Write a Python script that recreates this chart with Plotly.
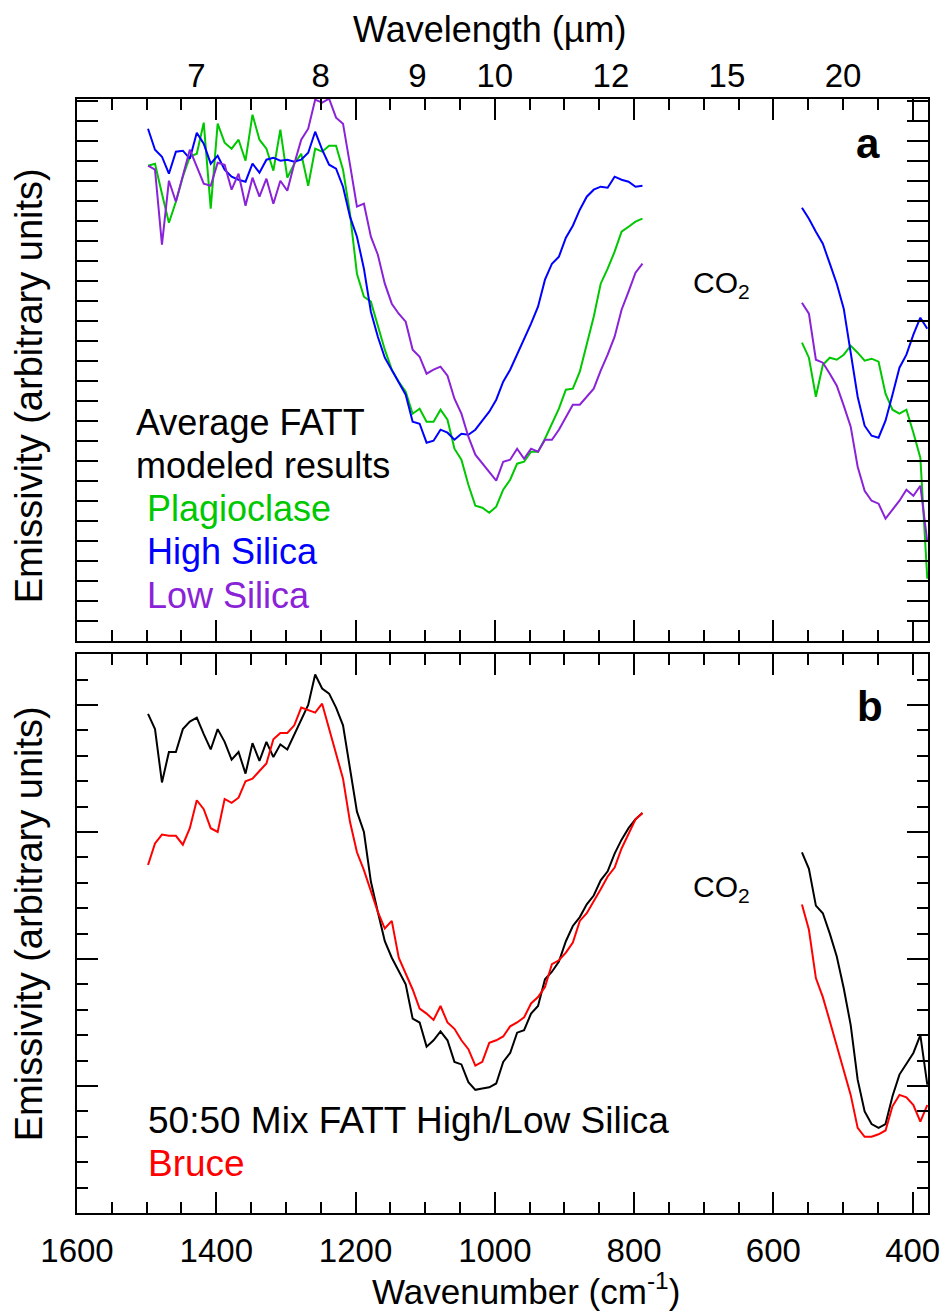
import plotly.graph_objects as go

# ---------------- data ----------------
# wavenumber sampling (cm^-1): left segment (before CO2 band) and right segment
wn_left = [1498, 1488, 1478, 1468, 1458, 1448, 1438, 1428, 1418, 1408,
           1398, 1388, 1378, 1368, 1358, 1348, 1338, 1328, 1318, 1308,
           1298, 1288, 1278, 1268, 1258, 1248, 1238, 1228, 1218, 1208,
           1198, 1188, 1178, 1168, 1158, 1148, 1138, 1128, 1118, 1108,
           1098, 1088, 1078, 1068, 1058, 1048, 1038, 1028, 1018, 1008,
           998, 988, 978, 968, 958, 948, 938, 928, 918, 908,
           898, 888, 878, 868, 858, 848, 838, 828, 818, 808,
           798, 788]
wn_right = [559, 549, 539, 529, 519, 509, 499, 489, 479, 469,
            459, 449, 439, 429, 419, 409, 399, 389, 379]

# panel a (arbitrary units)
plag_left = [4.75, 4.77, 4.47, 4.18, 4.39, 4.64, 4.84, 4.87, 5.18, 4.32,
             5.17, 4.98, 4.92, 5.01, 4.80, 5.26, 5.01, 4.92, 4.70, 5.11,
             4.63, 4.77, 4.87, 4.55, 4.92, 4.89, 4.95, 4.95, 4.71, 4.27,
             3.67, 3.44, 3.39, 3.15, 2.91, 2.71, 2.59, 2.49, 2.27, 2.32,
             2.19, 2.19, 2.31, 2.21, 1.92, 1.81, 1.56, 1.35, 1.33, 1.28,
             1.34, 1.51, 1.61, 1.77, 1.79, 1.89, 1.89, 2.02, 2.17, 2.32,
             2.51, 2.52, 2.69, 2.96, 3.24, 3.57, 3.72, 3.89, 4.09, 4.14,
             4.19, 4.22]
plag_right = [2.98, 2.83, 2.44, 2.76, 2.83, 2.81, 2.86, 2.95, 2.88, 2.80,
              2.82, 2.79, 2.47, 2.31, 2.27, 2.31, 2.08, 1.83, 0.62]

high_left = [5.12, 4.91, 4.84, 4.67, 4.89, 4.90, 4.82, 5.08, 4.97, 4.77,
             4.85, 4.71, 4.64, 4.61, 4.59, 4.77, 4.68, 4.81, 4.83, 4.80,
             4.81, 4.79, 4.81, 4.88, 5.09, 4.91, 4.76, 4.72, 4.54, 4.24,
             4.04, 3.72, 3.29, 3.04, 2.83, 2.71, 2.59, 2.46, 2.19, 2.17,
             1.98, 2.00, 2.11, 2.08, 2.01, 2.07, 2.06, 2.11, 2.20, 2.29,
             2.41, 2.59, 2.71, 2.86, 3.02, 3.17, 3.34, 3.61, 3.77, 3.84,
             4.03, 4.15, 4.31, 4.44, 4.51, 4.54, 4.53, 4.64, 4.61, 4.59,
             4.54, 4.55]
high_right = [4.33, 4.22, 4.09, 3.97, 3.77, 3.57, 3.32, 2.87, 2.44, 2.15,
              2.05, 2.03, 2.20, 2.46, 2.73, 2.86, 3.06, 3.23, 3.12]

low_left = [4.75, 4.71, 3.96, 4.60, 4.39, 4.64, 4.91, 4.74, 4.57, 4.55,
            4.78, 4.76, 4.51, 4.67, 4.35, 4.63, 4.44, 4.62, 4.37, 4.60,
            4.50, 4.77, 5.01, 5.12, 5.41, 5.38, 5.42, 5.23, 5.17, 4.76,
            4.34, 4.37, 4.04, 3.86, 3.57, 3.37, 3.27, 3.19, 2.91, 2.84,
            2.67, 2.71, 2.74, 2.65, 2.42, 2.27, 2.04, 1.86, 1.77, 1.69,
            1.60, 1.79, 1.81, 1.92, 1.82, 1.92, 1.89, 2.01, 2.01, 2.11,
            2.23, 2.36, 2.36, 2.44, 2.52, 2.70, 2.86, 3.04, 3.31, 3.49,
            3.68, 3.77]
low_right = [3.38, 3.27, 2.81, 2.78, 2.67, 2.55, 2.35, 2.14, 1.74, 1.50,
             1.40, 1.37, 1.22, 1.31, 1.40, 1.51, 1.45, 1.55, 0.99]

# panel b (arbitrary units)
mix_left = [3.93, 3.81, 3.39, 3.63, 3.63, 3.81, 3.87, 3.90, 3.77, 3.65,
            3.81, 3.71, 3.57, 3.63, 3.46, 3.70, 3.56, 3.71, 3.59, 3.69,
            3.65, 3.77, 3.88, 4.00, 4.24, 4.13, 4.09, 3.98, 3.84, 3.49,
            3.16, 3.00, 2.61, 2.37, 2.14, 2.01, 1.90, 1.80, 1.53, 1.50,
            1.31, 1.36, 1.43, 1.36, 1.19, 1.17, 1.03, 0.97, 0.98, 0.99,
            1.02, 1.19, 1.26, 1.42, 1.44, 1.57, 1.63, 1.84, 1.90, 1.98,
            2.14, 2.26, 2.33, 2.43, 2.50, 2.62, 2.69, 2.83, 2.94, 3.03,
            3.10, 3.15]
mix_right = [2.84, 2.71, 2.42, 2.36, 2.20, 2.02, 1.77, 1.48, 1.05, 0.80,
             0.70, 0.67, 0.70, 0.92, 1.09, 1.18, 1.26, 1.40, 1.01]

bruce_left = [2.74, 2.91, 2.98, 2.97, 2.97, 2.90, 3.03, 3.25, 3.18, 3.03,
              3.00, 3.26, 3.23, 3.27, 3.40, 3.42, 3.48, 3.54, 3.73, 3.78,
              3.78, 3.84, 3.98, 3.96, 3.94, 4.01, 3.81, 3.61, 3.42, 3.08,
              2.84, 2.70, 2.53, 2.37, 2.24, 2.30, 2.01, 1.89, 1.76, 1.61,
              1.57, 1.52, 1.63, 1.50, 1.45, 1.36, 1.29, 1.16, 1.19, 1.34,
              1.36, 1.39, 1.47, 1.50, 1.54, 1.65, 1.70, 1.78, 1.96, 1.99,
              2.05, 2.13, 2.30, 2.36, 2.45, 2.55, 2.65, 2.72, 2.87, 2.98,
              3.10, 3.15]
bruce_right = [2.43, 2.23, 1.85, 1.70, 1.51, 1.32, 1.13, 0.93, 0.67, 0.60,
               0.60, 0.62, 0.65, 0.84, 0.93, 0.91, 0.85, 0.72, 0.85]

# top axis (wavelength, micrometres)
wavelength_ticks = [7, 8, 9, 10, 12, 15, 20]
wavelength_labels = ["7", "8", "9", "10", "12", "15", "20"]

# ---------------- style ----------------
GREEN = "#00c800"
BLUE = "#0000ff"
PURPLE = "#8a22d8"
RED = "#ff0000"
BLACK = "#000000"
FONT = "Liberation Sans, Arial, Helvetica, sans-serif"

W, H = 952, 1313
L, R, T, B = 77, 20, 99, 100
PW, PH = W - L - R, H - T - B


def px(x):
    return (x - L) / PW


def py(y):
    return (H - B - y) / PH


XRANGE = [1600, 378]

fig = go.Figure()

for xs, ys, col, ax in [
    (wn_left, plag_left, GREEN, 2), (wn_right, plag_right, GREEN, 2),
    (wn_left, high_left, BLUE, 2), (wn_right, high_right, BLUE, 2),
    (wn_left, low_left, PURPLE, 2), (wn_right, low_right, PURPLE, 2),
    (wn_left, mix_left, BLACK, 1), (wn_right, mix_right, BLACK, 1),
    (wn_left, bruce_left, RED, 1), (wn_right, bruce_right, RED, 1),
]:
    fig.add_trace(go.Scatter(
        x=xs, y=ys, mode="lines",
        line=dict(color=col, width=2),
        xaxis="x" if ax == 1 else "x2",
        yaxis="y" if ax == 1 else "y2",
        showlegend=False, hoverinfo="skip"))

# invisible trace to activate top wavelength axis
fig.add_trace(go.Scatter(x=[1000], y=[1], mode="markers", marker=dict(opacity=0),
                         xaxis="x3", yaxis="y2", showlegend=False, hoverinfo="skip"))

common_x = dict(
    range=XRANGE, tickmode="linear", tick0=0, dtick=200,
    ticks="inside", ticklen=21, tickwidth=2, tickcolor=BLACK,
    minor=dict(dtick=50, tick0=0, ticks="inside", ticklen=11, tickwidth=2, tickcolor=BLACK),
    showline=True, linewidth=2, linecolor=BLACK, mirror="allticks",
    showgrid=False, zeroline=False,
)
common_y = dict(
    tickmode="linear", tick0=0, dtick=1,
    ticks="inside", ticklen=21, tickwidth=2, tickcolor=BLACK,
    minor=dict(dtick=0.2, tick0=0, ticks="inside", ticklen=11, tickwidth=2, tickcolor=BLACK),
    showline=True, linewidth=2, linecolor=BLACK, mirror="allticks",
    showgrid=False, zeroline=False, showticklabels=False,
)

dom_b = [0, py(654)]
dom_a = [py(640.7), 1]

fig.update_layout(
    width=W, height=H,
    margin=dict(l=L, r=R, t=T, b=B, pad=0),
    paper_bgcolor="white", plot_bgcolor="white",
    font=dict(family=FONT, color=BLACK, size=32),
    xaxis=dict(**common_x, anchor="y", domain=[0, 1],
               tickfont=dict(size=33), ticklabelstandoff=7),
    yaxis=dict(**common_y, anchor="x", domain=dom_b, range=[0, 559 / 127]),
    xaxis2=dict(**common_x, anchor="y2", domain=[0, 1], showticklabels=False),
    yaxis2=dict(**common_y, anchor="x2", domain=dom_a, range=[0, 541.7 / 100]),
    xaxis3=dict(range=XRANGE, overlaying="x2", anchor="y2", side="top",
                tickmode="array",
                tickvals=[10000 / w for w in wavelength_ticks],
                ticktext=wavelength_labels,
                ticks="", showline=False, showgrid=False, zeroline=False,
                tickfont=dict(size=33), ticklabelstandoff=4),
)

ann = []


def text(x, y, s, size, color=BLACK, xanchor="left", bold=False, angle=0):
    ann.append(dict(
        x=px(x), y=py(y), xref="paper", yref="paper", text=(f"<b>{s}</b>" if bold else s),
        showarrow=False, xanchor=xanchor, yanchor="middle", textangle=angle,
        font=dict(family=FONT, size=size, color=color)))


# axis titles
text(29, 386, "Emissivity (arbitrary units)", 38, xanchor="center", angle=-90)
text(29, 924, "Emissivity (arbitrary units)", 38, xanchor="center", angle=-90)
text(491, 29, "Wavelength (µm)", 36, xanchor="center")
text(528, 1289, "Wavenumber (cm<sup>-1</sup>)", 35, xanchor="center")

# panel labels
text(872, 143, "a", 42, xanchor="center", bold=True)
text(874, 707, "b", 42, xanchor="center", bold=True)

# CO2 band labels
text(694, 284, "CO<sub>2</sub>", 30)
text(694, 888, "CO<sub>2</sub>", 30)

# panel a legend
text(134, 422, "Average FATT", 36)
text(134, 465, "modeled results", 36)
text(145, 508, "Plagioclase", 36, GREEN)
text(145, 551, "High Silica", 36, BLUE)
text(145, 595, "Low Silica", 36, PURPLE)

# panel b legend
text(146, 1120, "50:50 Mix FATT High/Low Silica", 37)
text(146, 1163, "Bruce", 37, RED)

fig.update_layout(annotations=ann)

fig.write_html("out.html")
